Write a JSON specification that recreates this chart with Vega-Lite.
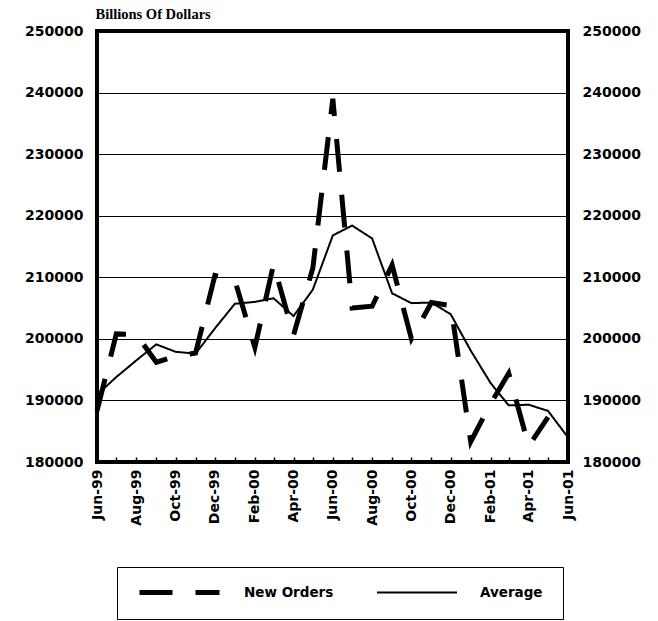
{
  "$schema": "https://vega.github.io/schema/vega-lite/v6.json",
  "width": 471,
  "height": 431,
  "autosize": {"type": "none"},
  "padding": {"left": 97, "top": 31, "right": 90, "bottom": 159},
  "background": "white",
  "data": {
    "values": [
      {"date": "1999-06-01", "series": "New Orders", "value": 188300},
      {"date": "1999-07-01", "series": "New Orders", "value": 200800},
      {"date": "1999-08-01", "series": "New Orders", "value": 200700},
      {"date": "1999-09-01", "series": "New Orders", "value": 196200},
      {"date": "1999-10-01", "series": "New Orders", "value": 197200},
      {"date": "1999-11-01", "series": "New Orders", "value": 197700},
      {"date": "1999-12-01", "series": "New Orders", "value": 210300},
      {"date": "2000-01-01", "series": "New Orders", "value": 209500},
      {"date": "2000-02-01", "series": "New Orders", "value": 198600},
      {"date": "2000-03-01", "series": "New Orders", "value": 212100},
      {"date": "2000-04-01", "series": "New Orders", "value": 200600},
      {"date": "2000-05-01", "series": "New Orders", "value": 211500},
      {"date": "2000-06-01", "series": "New Orders", "value": 239000},
      {"date": "2000-07-01", "series": "New Orders", "value": 205000},
      {"date": "2000-08-01", "series": "New Orders", "value": 205300},
      {"date": "2000-09-01", "series": "New Orders", "value": 212000},
      {"date": "2000-10-01", "series": "New Orders", "value": 200000},
      {"date": "2000-11-01", "series": "New Orders", "value": 205900},
      {"date": "2000-12-01", "series": "New Orders", "value": 205400},
      {"date": "2001-01-01", "series": "New Orders", "value": 183300},
      {"date": "2001-02-01", "series": "New Orders", "value": 189500},
      {"date": "2001-03-01", "series": "New Orders", "value": 194400},
      {"date": "2001-04-01", "series": "New Orders", "value": 182600},
      {"date": "2001-05-01", "series": "New Orders", "value": 187300},
      {"date": "1999-06-01", "series": "Average", "value": 190900},
      {"date": "1999-07-01", "series": "Average", "value": 193800},
      {"date": "1999-08-01", "series": "Average", "value": 196500},
      {"date": "1999-09-01", "series": "Average", "value": 199100},
      {"date": "1999-10-01", "series": "Average", "value": 197900},
      {"date": "1999-11-01", "series": "Average", "value": 197600},
      {"date": "1999-12-01", "series": "Average", "value": 201700},
      {"date": "2000-01-01", "series": "Average", "value": 205700},
      {"date": "2000-02-01", "series": "Average", "value": 206000},
      {"date": "2000-03-01", "series": "Average", "value": 206600},
      {"date": "2000-04-01", "series": "Average", "value": 203700},
      {"date": "2000-05-01", "series": "Average", "value": 208000},
      {"date": "2000-06-01", "series": "Average", "value": 216800},
      {"date": "2000-07-01", "series": "Average", "value": 218400},
      {"date": "2000-08-01", "series": "Average", "value": 216300},
      {"date": "2000-09-01", "series": "Average", "value": 207400},
      {"date": "2000-10-01", "series": "Average", "value": 205800},
      {"date": "2000-11-01", "series": "Average", "value": 205900},
      {"date": "2000-12-01", "series": "Average", "value": 204000},
      {"date": "2001-01-01", "series": "Average", "value": 198100},
      {"date": "2001-02-01", "series": "Average", "value": 192800},
      {"date": "2001-03-01", "series": "Average", "value": 189200},
      {"date": "2001-04-01", "series": "Average", "value": 189300},
      {"date": "2001-05-01", "series": "Average", "value": 188300},
      {"date": "2001-06-01", "series": "Average", "value": 184000}
    ]
  },
  "encoding": {
    "x": {
      "field": "date",
      "type": "temporal",
      "scale": {
        "type": "utc",
        "domain": [
          {"year": 1999, "month": 6, "date": 1, "utc": true},
          {"year": 2001, "month": 6, "date": 1, "utc": true}
        ]
      },
      "axis": {
        "title": null,
        "grid": false,
        "domain": false,
        "tickCount": {"interval": "month", "step": 1},
        "labelExpr": "utcmonth(datum.value) % 2 == 1 ? utcFormat(datum.value, '%b-%y') : ''",
        "labelAngle": 270,
        "labelAlign": "right",
        "labelBaseline": "middle",
        "labelPadding": 12,
        "labelOverlap": false,
        "labelFlush": false,
        "ticks": true,
        "tickSize": -5,
        "tickColor": "black",
        "tickWidth": 1.5,
        "labelFont": "DejaVu Sans",
        "labelFontWeight": "bold",
        "labelFontSize": 14,
        "labelColor": "black"
      }
    },
    "strokeDash": {
      "field": "series",
      "type": "nominal",
      "scale": {"domain": ["New Orders", "Average"], "range": [[33, 23], [1, 0]]},
      "legend": {
        "orient": "none",
        "legendX": 20,
        "legendY": 536,
        "direction": "horizontal",
        "title": null,
        "symbolType": "stroke",
        "symbolSize": 6400,
        "symbolStrokeColor": "black",
        "labelFont": "DejaVu Sans",
        "labelFontWeight": "bold",
        "labelFontSize": 13.5,
        "labelColor": "black",
        "labelOffset": 22,
        "columnPadding": 42,
        "padding": 20,
        "strokeColor": "black",
        "clipHeight": 11
      }
    },
    "strokeWidth": {
      "field": "series",
      "type": "nominal",
      "scale": {"domain": ["New Orders", "Average"], "range": [5, 2]},
      "legend": {
        "orient": "none",
        "legendX": 20,
        "legendY": 536,
        "direction": "horizontal",
        "title": null
      }
    }
  },
  "layer": [
    {
      "transform": [{"filter": "datum.series == 'New Orders'"}],
      "mark": {"type": "line", "color": "black", "strokeCap": "butt", "strokeJoin": "miter"},
      "encoding": {
        "y": {
          "field": "value",
          "type": "quantitative",
          "scale": {"domain": [180000, 250000], "zero": false, "nice": false},
          "axis": {
            "orient": "left",
            "title": "Billions Of Dollars",
            "titleAngle": 0,
            "titleX": -2,
            "titleY": -13,
            "titleAlign": "left",
            "titleBaseline": "alphabetic",
            "titleFont": "Liberation Serif",
            "titleFontSize": 14.5,
            "titleFontWeight": "bold",
            "titleColor": "black",
            "values": [180000, 190000, 200000, 210000, 220000, 230000, 240000, 250000],
            "format": "d",
            "grid": true,
            "gridColor": "black",
            "gridWidth": 1,
            "gridOpacity": 1,
            "domain": false,
            "ticks": false,
            "labelPadding": 14,
            "labelFont": "DejaVu Sans",
            "labelFontWeight": "bold",
            "labelFontSize": 14,
            "labelColor": "black"
          }
        }
      }
    },
    {
      "transform": [{"filter": "datum.series == 'Average'"}],
      "mark": {"type": "line", "color": "black", "strokeCap": "butt", "strokeJoin": "miter"},
      "encoding": {
        "y": {
          "field": "value",
          "type": "quantitative",
          "scale": {"domain": [180000, 250000], "zero": false, "nice": false},
          "axis": {
            "orient": "right",
            "title": null,
            "values": [180000, 190000, 200000, 210000, 220000, 230000, 240000, 250000],
            "format": "d",
            "grid": false,
            "domain": false,
            "ticks": false,
            "labelPadding": 14,
            "labelFont": "DejaVu Sans",
            "labelFontWeight": "bold",
            "labelFontSize": 14,
            "labelColor": "black"
          }
        }
      }
    }
  ],
  "resolve": {"scale": {"y": "shared"}, "axis": {"y": "independent"}},
  "config": {
    "view": {"stroke": "black", "strokeWidth": 4}
  }
}
